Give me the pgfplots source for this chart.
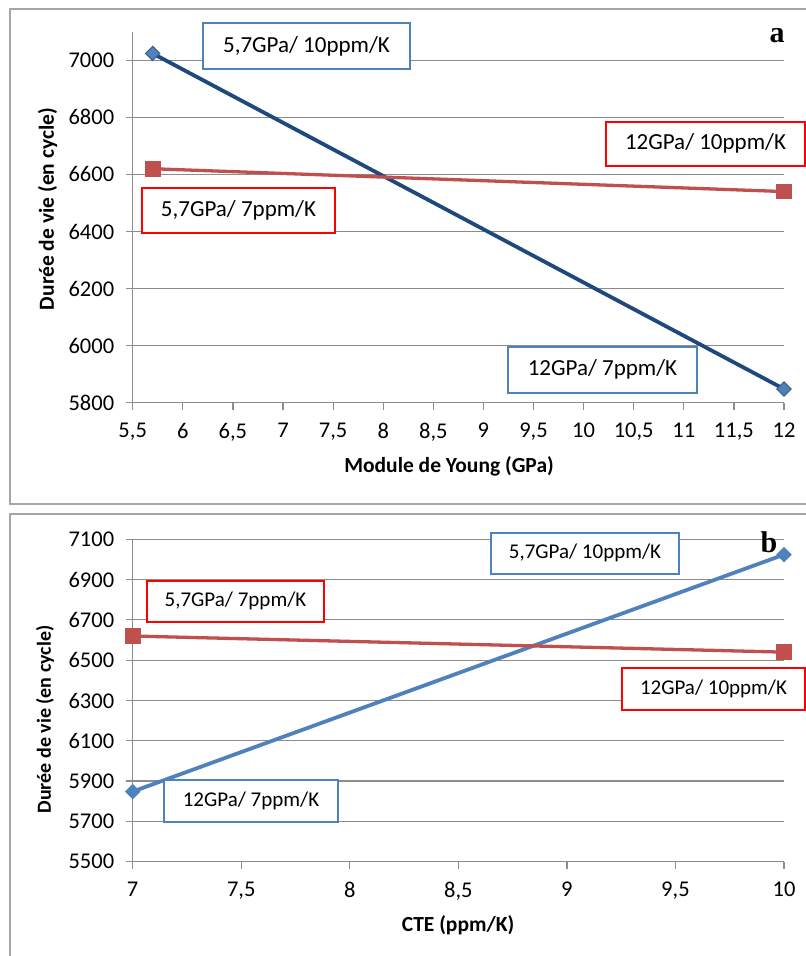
\documentclass[border=0pt]{standalone}
\usepackage{fontspec}
\setmainfont{Carlito}
\newfontfamily\timesfont{Liberation Serif}
\usepackage{pgfplots}
\pgfplotsset{compat=1.18}
\definecolor{xlgrid}{HTML}{8C8C8C}
\definecolor{xlframe}{HTML}{A6A6A6}
\definecolor{xlblue}{HTML}{4F81BD}
\definecolor{xldark}{HTML}{1F497D}
\definecolor{xlred}{HTML}{C0504D}
\definecolor{xledge}{HTML}{385D8A}
\definecolor{boxblue}{HTML}{4F81BD}
\definecolor{boxred}{HTML}{FF0000}
\pgfplotsset{xlstyle/.style={
  scale only axis, width=651.3pt,
  axis x line*=bottom, axis y line*=left,
  axis line style={xlgrid, line width=1.2pt},
  ymajorgrids, grid style={xlgrid, line width=1.2pt},
  tick style={xlgrid, line width=1.2pt},
  tick align=outside, major tick length=7pt,
  /pgf/number format/assume math mode=true,
  /pgf/number format/use comma, /pgf/number format/1000 sep={},
  ticklabel style={font=\fontsize{22.5}{26}\selectfont},
  xticklabel style={yshift=-10pt},
  yticklabel style={xshift=-8pt},
  clip=false,
}}
\tikzset{ann/.style={draw, line width=2pt, fill=white, align=center, inner sep=0pt}}
\begin{document}
\begin{tikzpicture}[x=1pt,y=1pt]
\useasboundingbox (0,0) rectangle (806,956);
% panel frames
\draw[xlframe, line width=1.5pt] (10,452) rectangle (830,947);
\draw[xlframe, line width=1.5pt] (10,-20) rectangle (830,442);

% ---------- panel a ----------
\begin{axis}[xlstyle, at={(132.7pt,553.3pt)}, anchor=south west, height=370.9pt,
  xmin=5.5, xmax=12, ymin=5800, ymax=7100,
  xtick={5.5,6,...,12}, ytick={5800,6000,...,7000},
  xlabel={Module de Young (GPa)}, ylabel={Durée de vie (en cycle)},
  xlabel style={at={(axis description cs:0.4857,-0.1726)}, anchor=center, font=\bfseries\fontsize{21.5}{25}\selectfont},
  ylabel style={at={(axis description cs:-0.1305,0.5222)}, anchor=center, font=\bfseries\fontsize{21.5}{25}\selectfont},
]
\addplot[xldark, line width=3.8pt, mark=square*, mark size=5pt,
  mark options={rotate=45, fill=xlblue, draw=xledge, line width=1pt}]
  coordinates {(5.7,7024) (12,5848)};
\addplot[xlred, line width=3.3pt, mark=square*, mark size=7.3pt,
  mark options={fill=xlred, draw=xlred, line width=1pt}]
  coordinates {(5.7,6620) (12,6540)};
\end{axis}

% ---------- panel b ----------
\begin{axis}[xlstyle, at={(132.7pt,94.3pt)}, anchor=south west, height=322.4pt,
  xmin=7, xmax=10, ymin=5500, ymax=7100,
  xtick={7,7.5,...,10}, ytick={5500,5700,...,7100},
  xlabel={CTE (ppm/K)}, ylabel={Durée de vie (en cycle)},
  xlabel style={at={(axis description cs:0.4995,-0.1967)}, anchor=center, font=\bfseries\fontsize{21.5}{25}\selectfont},
  ylabel style={at={(axis description cs:-0.1347,0.441)}, anchor=center, font=\bfseries\fontsize{20}{24}\selectfont},
]
\addplot[xlblue, line width=3.8pt, mark=square*, mark size=5pt,
  mark options={rotate=45, fill=xlblue, draw=xlblue, line width=1pt}]
  coordinates {(7,5848) (10,7024)};
\addplot[xlred, line width=3.3pt, mark=square*, mark size=7.3pt,
  mark options={fill=xlred, draw=xlred, line width=1pt}]
  coordinates {(7,6620) (10,6540)};
\end{axis}

% annotations panel a
\begin{scope}[every node/.append style={font=\fontsize{23}{27}\selectfont}]
\node[ann, draw=boxblue, minimum width=207pt, minimum height=46pt] at (306.5,910) {5,7GPa/ 10ppm/K};
\node[ann, draw=boxred, minimum width=199pt, minimum height=44pt] at (705.5,812.3) {12GPa/ 10ppm/K};
\node[ann, draw=boxred, minimum width=193pt, minimum height=45pt] at (238.5,745.2) {5,7GPa/ 7ppm/K};
\node[ann, draw=boxblue, minimum width=189pt, minimum height=46pt] at (602.5,586.3) {12GPa/ 7ppm/K};
\end{scope}
% annotations panel b
\begin{scope}[every node/.append style={font=\fontsize{21}{25}\selectfont}]
\node[ann, draw=boxblue, minimum width=188pt, minimum height=41pt] at (585,402.7) {5,7GPa/ 10ppm/K};
\node[ann, draw=boxred, minimum width=177pt, minimum height=41pt] at (235.5,354.8) {5,7GPa/ 7ppm/K};
\node[ann, draw=boxred, minimum width=183pt, minimum height=42pt] at (713.5,267) {12GPa/ 10ppm/K};
\node[ann, draw=boxblue, minimum width=174pt, minimum height=42pt] at (251,155.2) {12GPa/ 7ppm/K};
\end{scope}
\node[font=\timesfont\bfseries\fontsize{30}{34}\selectfont] at (777,920) {a};
\node[font=\timesfont\bfseries\fontsize{30}{34}\selectfont] at (769,414) {b};
\end{tikzpicture}
\end{document}
